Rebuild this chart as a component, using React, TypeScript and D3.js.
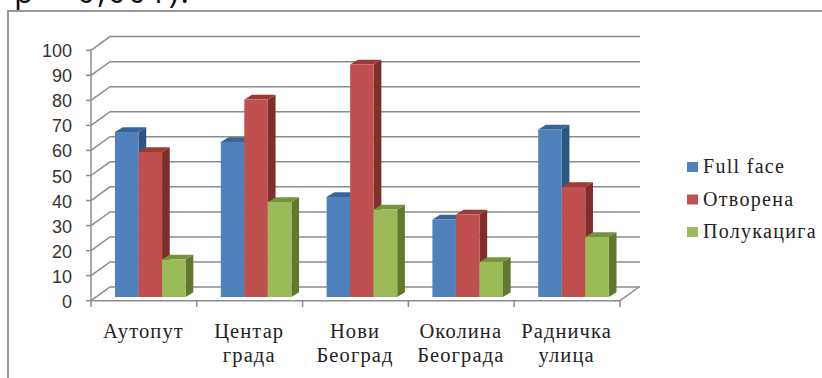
import * as d3 from "d3";

const categories = [["Аутопут"], ["Центар", "града"], ["Нови", "Београд"], ["Околина", "Београда"], ["Радничка", "улица"]];
const seriesNames = ["Full face", "Отворена", "Полукацига"];
const fullFace = [66, 62, 40, 31, 67];
const otvorena = [58, 79, 93, 33, 44];
const polukaciga = [15, 38, 35, 14, 24];
const yTicks = [0, 10, 20, 30, 40, 50, 60, 70, 80, 90, 100];

const palette = [
  { front: "#4f81bd", side: "#2f5582", top: "#3a6498" },
  { front: "#c0504d", side: "#7d2f2c", top: "#9a3b38" },
  { front: "#9bbb59", side: "#63782f", top: "#76923c" },
];

const GRID = "#8c8c8c";
const SANS = "'Liberation Sans', Arial, sans-serif";
const SERIF = "'Liberation Serif', 'Times New Roman', serif";

// Pseudo-3D box: the walls are shifted up and to the right of the front axis plane.
const wallDx = 19;
const wallDy = -13.7;
const barDx = 7.7;
const barDy = -4.7;
const barBase = 297;

const yFront = d3.scaleLinear().domain([0, 100]).range([300.7, 50.3]);
const yBar = d3.scaleLinear().domain([0, 100]).range([barBase, barBase - 250]);
const x0 = d3.scaleBand<number>().domain(d3.range(categories.length)).range([91, 620]);
const x1 = d3.scaleBand<number>().domain(d3.range(seriesNames.length)).range([0, 70.6]);
const barInset = 24;

function Bar({ x, value, colors }: { x: number; value: number; colors: (typeof palette)[number] }) {
  const w = x1.bandwidth();
  const t = yBar(value);
  const pts = (p: number[][]) => p.map((q) => q.join(",")).join(" ");
  return (
    <g>
      <polygon fill={colors.side} points={pts([[x + w, t], [x + w + barDx, t + barDy], [x + w + barDx, barBase + barDy], [x + w, barBase]])} />
      <polygon fill={colors.top} points={pts([[x, t], [x + barDx, t + barDy], [x + w + barDx, t + barDy], [x + w, t]])} />
      <rect x={x} y={t} width={w} height={barBase - t} fill={colors.front} />
    </g>
  );
}

export default function App() {
  const series = [fullFace, otvorena, polukaciga];
  return (
    <svg width={822} height={378} style={{ position: "absolute", left: 0, top: 0, background: "#fff" }}>
      <text x={14} y={3} fontFamily="'Open Sans', sans-serif" fontSize={32} letterSpacing={2.1} fill="#111">p &lt; 0,001).</text>
      <path d="M8,378 V11 H822" fill="none" stroke="#9a9a9a" strokeWidth={2} />

      {yTicks.map((v) => (
        <g key={v}>
          <path
            d={`M${x0.range()[0]},${yFront(v)} L${x0.range()[0] + wallDx},${yFront(v) + wallDy} H640`}
            fill="none" stroke={GRID} strokeWidth={1.5}
          />
          <line x1={86} x2={91} y1={yFront(v)} y2={yFront(v)} stroke={GRID} strokeWidth={1.5} />
          <text x={72} y={yFront(v) + 7} textAnchor="end" fontFamily={SANS} fontSize={18} fill="#333">{v}</text>
        </g>
      ))}
      <line x1={91} x2={91} y1={yFront(100)} y2={yFront(0)} stroke={GRID} strokeWidth={1.5} />
      <line x1={91} x2={620} y1={yFront(0)} y2={yFront(0)} stroke={GRID} strokeWidth={1.5} />
      <line x1={620} x2={620 + wallDx} y1={yFront(0)} y2={yFront(0) + wallDy} stroke={GRID} strokeWidth={1.5} />
      {d3.range(categories.length + 1).map((i) => {
        const x = i < categories.length ? x0(i)! : 620;
        return <line key={i} x1={x} x2={x} y1={yFront(0)} y2={307} stroke={GRID} strokeWidth={1.5} />;
      })}

      {categories.map((_, c) => (
        <g key={c}>
          {series.map((s, k) => (
            <Bar key={k} x={x0(c)! + barInset + x1(k)!} value={s[c]} colors={palette[k]} />
          ))}
        </g>
      ))}

      {categories.map((lines, c) => (
        <text key={c} textAnchor="middle" fontFamily={SERIF} fontSize={20.5} letterSpacing={1.1} fill="#222">
          {lines.map((l, i) => (
            <tspan key={i} x={x0(c)! + x0.bandwidth() / 2 - 0.5} y={338 + i * 23.5}>{l}</tspan>
          ))}
        </text>
      ))}

      {seriesNames.map((name, k) => {
        const cy = 167 + k * 32.5;
        return (
          <g key={name}>
            <rect x={687} y={cy - 5} width={11} height={10} fill={palette[k].front} />
            <text x={703} y={cy + 6} fontFamily={SERIF} fontSize={20} letterSpacing={1.3} fill="#222">{name}</text>
          </g>
        );
      })}
    </svg>
  );
}
